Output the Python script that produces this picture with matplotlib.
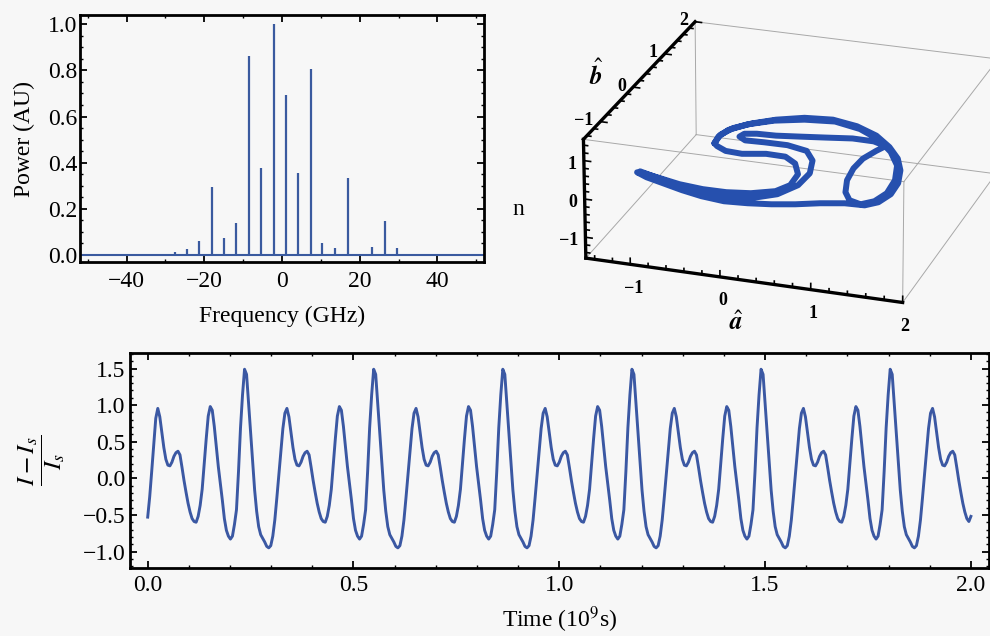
import numpy as np
import matplotlib
matplotlib.use("Agg")
import matplotlib.pyplot as plt
from matplotlib.ticker import MultipleLocator
from matplotlib.mathtext import MathTextParser
from matplotlib.text import Text
from mpl_toolkits.mplot3d import proj3d

plt.rcParams['font.family'] = ['Liberation Serif', 'DejaVu Serif']
plt.rcParams['mathtext.fontset'] = 'stix'
plt.rcParams['font.size'] = 17
plt.rcParams['axes.unicode_minus'] = True

# ---------------- data: optical spectrum ----------------
freq_ghz = [-27.5, -24.4, -21.3, -17.9, -14.9, -11.8, -8.4, -5.4, -2.0, 1.0,
            4.1, 7.5, 10.4, 13.7, 16.9, 23.2, 26.4, 29.7]
power_au = [0.012, 0.025, 0.06, 0.295, 0.075, 0.14, 0.863, 0.375, 1.0, 0.693,
            0.354, 0.805, 0.05, 0.029, 0.332, 0.036, 0.147, 0.029]
spec_xticks = [-40, -20, 0, 20, 40]
spec_xticklabels = ['\u221240', '\u221220', '0', '20', '40']
spec_yticks = [0.0, 0.2, 0.4, 0.6, 0.8, 1.0]
spec_yticklabels = ['0.0', '0.2', '0.4', '0.6', '0.8', '1.0']

# ---------------- data: intensity time series (uniform samples 0 .. 2.0) ----------------
current = [
    -0.53, -0.25, 0.10, 0.47, 0.82, 0.955, 0.84, 0.63, 0.42, 0.26,
    0.18, 0.17, 0.22, 0.30, 0.35, 0.37, 0.32, 0.15, -0.03, -0.19,
    -0.34, -0.46, -0.55, -0.59, -0.60, -0.52, -0.37, -0.15, 0.19, 0.54,
    0.85, 0.98, 0.93, 0.71, 0.43, 0.16, -0.07, -0.30, -0.55, -0.71,
    -0.79, -0.83, -0.79, -0.63, -0.43, 0.09, 0.69, 1.14, 1.49, 1.42,
    1.02, 0.62, 0.21, -0.16, -0.45, -0.66, -0.77, -0.82, -0.87, -0.93,
    -0.95, -0.92, -0.79, -0.57,
    -0.27, 0.05, 0.37, 0.68, 0.89, 0.955, 0.84, 0.63, 0.42, 0.26,
    0.18, 0.17, 0.22, 0.30, 0.35, 0.37, 0.32, 0.15, -0.03, -0.19,
    -0.34, -0.46, -0.55, -0.59, -0.60, -0.52, -0.37, -0.15, 0.19, 0.54,
    0.85, 0.98, 0.93, 0.71, 0.43, 0.16, -0.07, -0.30, -0.55, -0.71,
    -0.79, -0.83, -0.79, -0.63, -0.43, 0.09, 0.69, 1.14, 1.49, 1.42,
    1.02, 0.62, 0.21, -0.16, -0.45, -0.66, -0.77, -0.82, -0.87, -0.93,
    -0.95, -0.92, -0.79, -0.57,
    -0.27, 0.05, 0.37, 0.68, 0.89, 0.955, 0.84, 0.63, 0.42, 0.26,
    0.18, 0.17, 0.22, 0.30, 0.35, 0.37, 0.32, 0.15, -0.03, -0.19,
    -0.34, -0.46, -0.55, -0.59, -0.60, -0.52, -0.37, -0.15, 0.19, 0.54,
    0.85, 0.98, 0.93, 0.71, 0.43, 0.16, -0.07, -0.30, -0.55, -0.71,
    -0.79, -0.83, -0.79, -0.63, -0.43, 0.09, 0.69, 1.14, 1.49, 1.42,
    1.02, 0.62, 0.21, -0.16, -0.45, -0.66, -0.77, -0.82, -0.87, -0.93,
    -0.95, -0.92, -0.79, -0.57,
    -0.27, 0.05, 0.37, 0.68, 0.89, 0.955, 0.84, 0.63, 0.42, 0.26,
    0.18, 0.17, 0.22, 0.30, 0.35, 0.37, 0.32, 0.15, -0.03, -0.19,
    -0.34, -0.46, -0.55, -0.59, -0.60, -0.52, -0.37, -0.15, 0.19, 0.54,
    0.85, 0.98, 0.93, 0.71, 0.43, 0.16, -0.07, -0.30, -0.55, -0.71,
    -0.79, -0.83, -0.79, -0.63, -0.43, 0.09, 0.69, 1.14, 1.49, 1.42,
    1.02, 0.62, 0.21, -0.16, -0.45, -0.66, -0.77, -0.82, -0.87, -0.93,
    -0.95, -0.92, -0.79, -0.57,
    -0.27, 0.05, 0.37, 0.68, 0.89, 0.955, 0.84, 0.63, 0.42, 0.26,
    0.18, 0.17, 0.22, 0.30, 0.35, 0.37, 0.32, 0.15, -0.03, -0.19,
    -0.34, -0.46, -0.55, -0.59, -0.60, -0.52, -0.37, -0.15, 0.19, 0.54,
    0.85, 0.98, 0.93, 0.71, 0.43, 0.16, -0.07, -0.30, -0.55, -0.71,
    -0.79, -0.83, -0.79, -0.63, -0.43, 0.09, 0.69, 1.14, 1.49, 1.42,
    1.02, 0.62, 0.21, -0.16, -0.45, -0.66, -0.77, -0.82, -0.87, -0.93,
    -0.95, -0.92, -0.79, -0.57,
    -0.27, 0.05, 0.37, 0.68, 0.89, 0.955, 0.84, 0.63, 0.42, 0.26,
    0.18, 0.17, 0.22, 0.30, 0.35, 0.37, 0.32, 0.15, -0.03, -0.19,
    -0.34, -0.46, -0.55, -0.59, -0.60, -0.52, -0.37, -0.15, 0.19, 0.54,
    0.85, 0.98, 0.93, 0.71, 0.43, 0.16, -0.07, -0.30, -0.55, -0.71,
    -0.79, -0.83, -0.79, -0.63, -0.43, 0.09, 0.69, 1.14, 1.49, 1.42,
    1.02, 0.62, 0.21, -0.16, -0.45, -0.66, -0.77, -0.82, -0.87, -0.93,
    -0.95, -0.92, -0.79, -0.57,
    -0.27, 0.05, 0.37, 0.68, 0.89, 0.955, 0.84, 0.63, 0.42, 0.26,
    0.18, 0.17, 0.22, 0.30, 0.35, 0.37, 0.32, 0.15, -0.03, -0.19,
    -0.34, -0.46, -0.55, -0.59, -0.52,
]
time_xticks = [0.0, 0.5, 1.0, 1.5, 2.0]
time_xticklabels = ['0.0', '0.5', '1.0', '1.5', '2.0']
curr_yticks = [-1.0, -0.5, 0.0, 0.5, 1.0, 1.5]
curr_yticklabels = ['\u22121.0', '\u22120.5', '0.0', '0.5', '1.0', '1.5']

# ---------------- data: phase-space orbit (a, b, n) ----------------
orbit_a = [
    -0.696, -0.711, -0.641, -0.485, -0.271, 0.008, 0.320, 0.625, 0.904, 1.131,
    1.309, 1.428, 1.505, 1.516, 1.454, 1.341, 1.127, 0.880, 0.642, 0.405,
    0.160, -0.092, -0.360, -0.607, -0.861, -1.079, -1.219, -1.142, -0.933, -0.686,
    -0.408, -0.146, 0.108, 0.338, 0.436, 0.424, 0.305, 0.148, -0.073, -0.320,
    -0.512, -0.642, -0.696, -0.715, -0.673, -0.525, -0.282, 0.024, 0.357, 0.679,
    0.957, 1.182, 1.356, 1.450, 1.469, 1.407, 1.293, 1.151, 1.047, 0.967,
    0.937, 0.954, 1.026, 1.084, 0.924, 0.682, 0.398, 0.123, -0.131, -0.345,
    -0.473, -0.498, -0.406, -0.192, 0.070, 0.316, 0.457, 0.535, 0.515, 0.382,
    0.149, -0.125, -0.451, -0.763, -1.018, -1.197]
orbit_b = [
    0.332, 0.575, 0.791, 0.980, 1.161, 1.309, 1.357, 1.264, 1.081, 0.826,
    0.554, 0.262, -0.070, -0.370, -0.610, -0.731, -0.746, -0.827, -0.934, -1.012,
    -1.065, -1.094, -1.045, -0.961, -0.852, -0.759, -0.667, -0.669, -0.738, -0.822,
    -0.867, -0.864, -0.808, -0.676, -0.478, -0.179, 0.084, 0.226, 0.234, 0.153,
    0.172, 0.267, 0.332, 0.518, 0.725, 0.939, 1.129, 1.259, 1.314, 1.200,
    0.989, 0.705, 0.376, -0.005, -0.358, -0.598, -0.719, -0.656, -0.470, -0.165,
    0.156, 0.436, 0.681, 0.838, 0.922, 0.926, 0.858, 0.795, 0.739, 0.724,
    0.681, 0.590, 0.511, 0.526, 0.530, 0.446, 0.218, -0.115, -0.452, -0.745,
    -0.932, -0.995, -0.937, -0.819, -0.712, -0.633]
orbit_n = [
    0.0, 0.0, 0.0, 0.0, 0.0, 0.0, 0.0, 0.0, 0.0, 0.0,
    0.0, 0.0, 0.0, 0.0, 0.0, 0.0, 0.0, 0.0, 0.0, 0.0,
    0.0, 0.0, 0.0, 0.0, 0.0, 0.0, 0.0, 0.0, 0.0, 0.0,
    0.0, 0.0, 0.0, 0.0, 0.0, 0.0, 0.0, 0.0, 0.0, 0.0,
    0.0, 0.0, 0.0, 0.0, 0.0, 0.0, 0.0, 0.0, 0.0, 0.0,
    0.0, 0.0, 0.0, 0.0, 0.0, 0.0, 0.0, 0.0, 0.0, 0.0,
    0.0, 0.0, 0.0, 0.0, 0.0, 0.0, 0.0, 0.0, 0.0, 0.0,
    0.0, 0.0, 0.0, 0.0, 0.0, 0.0, 0.0, 0.0, 0.0, 0.0,
    0.0, 0.0, 0.0, 0.0, 0.0, 0.0]
a_ticks = [-1, 0, 1, 2]
a_ticklabels = ['\u22121', '0', '1', '2']
b_ticks = [-1, 0, 1, 2]
b_ticklabels = ['\u22121', '0', '1', '2']
n_ticks = [-1, 0, 1]
n_ticklabels = ['\u22121', '0', '1']

# ---------------- style ----------------
BG = '#f7f7f7'
SPEC_BLUE = '#3a5a9f'
TS_BLUE = '#3b58a3'
ORBIT_BLUE = '#2650ae'
EDGE = '#a8a8a8'
W, H = 990, 636


def can_render(s):
    try:
        MathTextParser('path').parse(s)
        return True
    except Exception:
        return False


A_HAT = r'$\hat{\mathbfit{a}}$'
B_HAT = r'$\hat{\mathbfit{b}}$'
if not (can_render(A_HAT) and can_render(B_HAT)):
    A_HAT = r'$\hat{\mathbf{a}}$'
    B_HAT = r'$\hat{\mathbf{b}}$'

fig = plt.figure(figsize=(W / 100, H / 100), dpi=100, facecolor=BG)


def style2d(ax, xpad, ypad):
    ax.set_facecolor(BG)
    for sp in ax.spines.values():
        sp.set_linewidth(2.0)
    ax.tick_params(which='both', direction='in', top=True, right=True,
                   colors='black')
    ax.tick_params(which='major', length=5, width=1.3)
    ax.tick_params(which='minor', length=2.5, width=1.0)
    ax.tick_params(axis='x', which='major', pad=xpad)
    ax.tick_params(axis='y', which='major', pad=ypad)


# ---- spectrum ----
ax1 = fig.add_axes([80 / W, 1 - 262.3 / H, 404 / W, 247.3 / H])
ax1.axhline(0.0, color=SPEC_BLUE, lw=1.5, zorder=2)
ax1.vlines(freq_ghz, 0.0, power_au, color=SPEC_BLUE, lw=1.6, zorder=2)
ax1.set_xlim(-52, 52)
ax1.set_ylim(-0.032, 1.04)
ax1.set_xticks(spec_xticks, spec_xticklabels)
ax1.set_yticks(spec_yticks, spec_yticklabels)
ax1.xaxis.set_minor_locator(MultipleLocator(10))
ax1.yaxis.set_minor_locator(MultipleLocator(0.05))
style2d(ax1, 6, 2)
ax1.set_xlabel('Frequency (GHz)')
ax1.xaxis.set_label_coords(0.5, -0.175)
ax1.set_ylabel('Power (AU)')
ax1.yaxis.set_label_coords(-0.111, 0.5)

# ---- time series ----
ax2 = fig.add_axes([130 / W, 1 - 567.7 / H, 859 / W, 215 / H])
time = np.linspace(0.0, 2.0, len(current))
ax2.plot(time, current, color=TS_BLUE, lw=2.1)
ax2.set_xlim(-0.043, 2.044)
ax2.set_ylim(-1.221, 1.716)
ax2.set_xticks(time_xticks, time_xticklabels)
ax2.set_yticks(curr_yticks, curr_yticklabels)
ax2.xaxis.set_minor_locator(MultipleLocator(0.1))
ax2.yaxis.set_minor_locator(MultipleLocator(0.1))
style2d(ax2, 5, 3.5)
ax2.set_xlabel('Time (10$^9$s)')
ax2.xaxis.set_label_coords(0.5, -0.17)
ax2.set_ylabel(r'$\dfrac{I-I_s}{I_s}$', fontsize=18)
ax2.yaxis.set_label_coords(-0.073, 0.5)

# ---- 3D orbit ----
lo_a, hi_a = -1.5, 2.0
lo_b, hi_b = -1.5, 2.0
lo_n, hi_n = -1.55, 1.55

ax3 = fig.add_axes([0.55, 0.45, 0.45, 0.55], projection='3d')
ax3.set_proj_type('persp', focal_length=1.8)
ax3.view_init(elev=23.4, azim=-71.7)
ax3.set_box_aspect((1.0, 1.0, 0.39))
ax3.set_xlim(lo_a, hi_a)
ax3.set_ylim(lo_b, hi_b)
ax3.set_zlim(lo_n, hi_n)
ax3.set_xticks([])
ax3.set_yticks([])
ax3.set_zticks([])
ax3.set_axis_off()
ax3.set_facecolor('none')
ax3.computed_zorder = False

# bounding box edges
for bb_ in (lo_b, hi_b):
    for nn_ in (lo_n, hi_n):
        ax3.plot([lo_a, hi_a], [bb_, bb_], [nn_, nn_], color=EDGE, lw=0.7, zorder=1)
for aa_ in (lo_a, hi_a):
    for nn_ in (lo_n, hi_n):
        ax3.plot([aa_, aa_], [lo_b, hi_b], [nn_, nn_], color=EDGE, lw=0.7, zorder=1)
for aa_ in (lo_a, hi_a):
    for bb_ in (lo_b, hi_b):
        ax3.plot([aa_, aa_], [bb_, bb_], [lo_n, hi_n], color=EDGE, lw=0.7, zorder=1)

# axis lines
ax3.plot([lo_a, hi_a], [lo_b, lo_b], [lo_n, lo_n], color='black', lw=2.4, zorder=2)
ax3.plot([lo_a, lo_a], [lo_b, lo_b], [lo_n, hi_n], color='black', lw=2.4, zorder=2)
ax3.plot([lo_a, lo_a], [lo_b, hi_b], [hi_n, hi_n], color='black', lw=2.4, zorder=2)

tick_ab = np.round(np.arange(-1.4, 2.01, 0.2), 1)
tick_n = np.round(np.arange(-1.4, 1.41, 0.2), 1)


def is_major(t):
    return abs(t - round(t)) < 1e-6


for t in tick_ab:
    ln = 0.16 if is_major(t) else 0.09
    ax3.plot([t, t], [lo_b, lo_b], [lo_n, lo_n + ln], color='black', lw=1.2, zorder=2)
    ln = 0.075 if is_major(t) else 0.045
    ax3.plot([lo_a, lo_a + ln], [t, t], [hi_n, hi_n], color='black', lw=1.2, zorder=2)
for t in tick_n:
    ln = 0.075 if is_major(t) else 0.045
    ax3.plot([lo_a, lo_a + ln], [lo_b, lo_b], [t, t], color='black', lw=1.2, zorder=2)

ax3.plot(orbit_a, orbit_b, orbit_n, color=ORBIT_BLUE, lw=4.3,
         solid_capstyle='round', solid_joinstyle='round', zorder=3)

# 3D labels: projected once through the axes' own projection, drawn as 2D texts
M_view = ax3.get_proj()


def label3d(x, y, z, s, **kw):
    xp, yp, _ = proj3d.proj_transform(np.array([x]), np.array([y]), np.array([z]), M_view)
    ax3.text2D(float(xp[0]), float(yp[0]), s, transform=ax3.transData, zorder=4, **kw)


tick_font = dict(fontsize=13, fontweight='bold')
for t, lab in zip(a_ticks, a_ticklabels):
    label3d(t + 0.03, lo_b, lo_n - 0.62, lab, ha='center', va='center', **tick_font)
for t, lab in zip(n_ticks, n_ticklabels):
    label3d(lo_a - 0.08, lo_b, t - 0.12, lab, ha='right', va='center', **tick_font)
for t, lab in zip(b_ticks, b_ticklabels):
    label3d(lo_a - 0.08, t, hi_n, lab, ha='right', va='center', **tick_font)
label3d(0.18, lo_b, lo_n - 1.15, A_HAT, fontsize=18, ha='center', va='center')
label3d(lo_a - 0.5, 0.19, hi_n, B_HAT, fontsize=18, ha='center', va='center')
label3d(lo_a - 0.75, lo_b, -0.5, 'n', fontsize=17, ha='center', va='center')

# hide empty placeholder texts (titles, unused axis labels)
for txt in fig.findobj(Text):
    if txt.get_text() == '':
        txt.set_visible(False)

# ---- place the 3D box where the reference box sits ----
fig.canvas.draw()
M = ax3.get_proj()
corners = np.array([(lo_a, lo_b, lo_n), (hi_a, lo_b, lo_n), (lo_a, lo_b, hi_n),
                    (hi_a, lo_b, hi_n), (lo_a, hi_b, hi_n), (hi_a, hi_b, hi_n)])
target = np.array([(587, 262.3), (906.7, 304), (587, 142.3), (907, 185),
                   (693.3, 15.7), (988, 53)], dtype=float)
target[:, 1] = H - target[:, 1]
px, py, _ = proj3d.proj_transform(corners[:, 0], corners[:, 1], corners[:, 2], M)
disp = ax3.transData.transform(np.column_stack([px, py]))
pos = ax3.get_position()
cx = (pos.x0 + pos.x1) / 2 * W
cy = (pos.y0 + pos.y1) / 2 * H
L = pos.width * W
p = disp - np.array([cx, cy])
pm = p.mean(axis=0)
qm = target.mean(axis=0)
s = ((p - pm) * (target - qm)).sum() / ((p - pm) ** 2).sum()
c_new = qm - s * pm
L_new = s * L
ax3.set_position([(c_new[0] - L_new / 2) / W, (c_new[1] - L_new / 2) / H,
                  L_new / W, L_new / H])

fig.savefig('out.png', dpi=100, facecolor=BG)
